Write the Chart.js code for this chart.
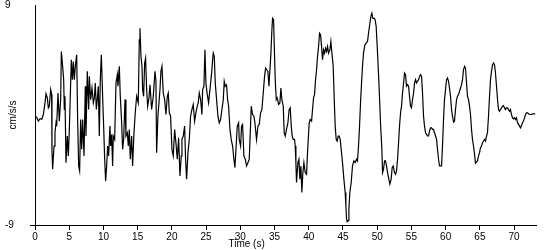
<!DOCTYPE html>
<html>
<head>
<meta charset="utf-8">
<script src="https://cdn.jsdelivr.net/npm/chart.js@4/dist/chart.umd.min.js"></script>
<style>
html,body{margin:0;padding:0;background:#fff;}
#wrap{width:550px;height:250px;}
</style>
</head>
<body>
<div id="wrap"><canvas id="c" width="550" height="250"></canvas></div>
<script>
// Time (s)
const times = [
0,0.25,0.49,0.75,1.0,1.22,1.46,1.61,1.80,1.95,2.09,2.29,2.43,2.48,2.58,2.78,2.92,3.07,3.16,3.36,3.55,3.75,3.85,4.04,4.19,4.28,4.38,4.53,4.72,4.87,
5.01,5.21,5.31,5.45,5.60,5.74,5.89,6.09,6.23,6.38,6.52,6.67,6.82,6.96,7.16,7.35,7.45,7.64,7.84,7.94,8.13,8.33,8.52,8.67,8.81,8.96,9.10,9.25,9.40,9.54,
9.69,9.88,10.03,10.18,10.32,10.47,10.61,10.76,10.95,11.05,11.20,11.34,11.44,11.64,11.83,12.03,12.12,12.32,12.46,12.66,12.80,12.95,13.15,13.29,13.49,13.63,13.78,13.92,14.12,14.26,
14.46,14.65,14.85,15.09,15.24,15.34,15.48,15.63,15.73,15.87,16.02,16.16,16.31,16.46,16.65,
16.80,17.04,17.28,17.53,17.67,17.77,17.96,18.26,18.40,18.55,18.74,18.94,19.13,19.33,19.47,19.62,19.81,20.01,20.20,20.40,20.59,20.79,20.98,21.18,21.37,21.47,21.66,21.86,22.00,22.15,
22.35,22.54,22.73,22.93,23.12,23.32,23.51,23.71,23.85,24.00,24.20,24.39,24.49,24.68,24.83,24.97,25.17,25.36,25.56,25.71,25.85,25.95,26.05,26.19,26.34,26.53,26.73,26.92,27.12,27.31,
27.51,27.65,27.80,27.99,28.14,28.29,28.48,28.67,28.87,29.06,29.21,29.36,29.55,29.75,29.84,30.04,30.18,30.33,30.52,30.72,30.91,31.11,31.30,31.45,31.60,31.79,31.99,32.13,32.37,32.57,
32.76,32.96,33.15,33.35,33.54,33.69,33.84,34.03,34.18,
34.47,34.61,34.71,34.86,34.95,35.10,35.25,35.39,35.59,35.78,35.93,36.07,36.27,36.41,36.56,36.75,36.95,37.14,37.29,37.44,37.58,37.73,37.92,38.02,38.12,38.21,38.41,38.56,38.70,38.85,
38.99,39.14,39.29,39.48,39.68,39.77,39.92,40.07,40.21,40.41,40.55,40.70,40.84,40.99,41.14,41.28,41.43,41.57,41.72,41.87,42.01,42.16,42.30,42.45,42.60,42.74,42.89,43.08,43.23,43.38,
43.57,43.72,43.86,44.01,44.15,44.30,44.45,44.59,44.74,44.93,45.13,45.32,45.42,45.52,45.61,45.76,45.86,46.00,46.20,46.39,46.59,46.78,46.98,47.12,47.27,47.42,47.56,47.71,47.85,48.00,
48.20,48.39,48.58,48.73,48.93,49.07,49.22,49.36,49.56,49.70,49.85,50.00,50.14,50.29,50.48,50.68,50.78,50.92,51.07,51.21,51.36,51.51,51.70,
51.85,52.04,52.19,52.34,52.53,52.68,52.82,52.97,53.12,53.26,53.41,53.55,53.70,53.85,53.99,54.14,54.28,54.43,54.58,54.72,54.87,55.01,55.16,55.31,55.45,55.60,55.74,55.89,56.04,56.18,
56.33,56.48,56.62,56.77,56.91,57.06,57.21,57.35,57.50,57.64,57.79,57.94,58.08,58.23,58.37,58.52,58.67,58.81,58.96,59.10,59.25,59.40,59.54,59.69,59.83,59.98,60.13,60.27,60.42,60.56,
60.71,60.86,61.00,61.15,61.29,61.44,61.59,61.73,61.88,62.03,62.17,62.32,62.46,62.61,62.76,62.90,63.05,63.19,63.34,63.49,63.63,63.78,63.92,64.07,64.22,64.36,64.51,64.65,64.80,64.95,
65.09,65.24,65.38,65.53,65.68,65.82,65.97,66.11,66.26,66.41,66.55,66.70,66.85,66.99,67.14,67.28,67.43,67.58,67.72,67.87,68.01,68.16,68.31,68.45,68.60,68.74,68.89,69.04,69.18,69.33,
69.47,69.62,69.77,69.91,70.06,70.20,70.35,70.50,70.64,70.79,70.94,71.08,71.23,71.37,71.52,71.67,71.81,71.96,72.10,72.25,72.40,72.54,72.69,72.88,73.08
];
// Acceleration (cm/s/s)
const accel = [
-0.10,-0.20,-0.50,-0.30,-0.35,0.04,0.99,1.75,1.40,0.58,0.72,2.08,1.67,-2.95,-4.44,-2.54,-1.45,-0.64,-0.91,1.80,-0.50,1.26,5.20,3.98,2.89,0.45,1.53,-3.90,-1.72,-3.35,
-1.32,2.62,4.52,2.89,4.38,2.89,3.98,4.93,-0.37,-4.17,-4.57,-0.37,-2.81,-0.37,-3.35,2.35,-1.72,3.57,0.45,3.16,1.26,2.21,0.99,1.40,2.62,0.45,1.26,2.35,-1.72,2.89,
4.93,1.53,-0.91,-3.62,-5.39,-4.17,-2.54,-3.35,-0.91,-2.54,-1.59,-4.17,-1.72,-2.00,2.62,3.30,2.35,3.98,1.53,-0.64,-2.81,-2.00,1.26,-1.72,-1.45,-2.54,-1.18,-3.62,-1.72,-4.17,
-1.45,0.18,1.53,0.99,6.15,7.10,4.79,3.98,2.08,1.53,4.25,4.65,2.08,0.72,1.40,
2.48,0.45,1.53,3.57,2.76,-3.08,-0.10,2.08,3.57,3.98,1.80,1.26,0.04,1.53,1.80,0.18,-0.10,-2.81,-3.35,-1.18,-2.27,-3.62,-1.86,-4.98,-3.35,-2.00,-1.72,-0.91,-3.62,-5.25,
-3.08,-2.00,-0.10,0.45,0.86,-0.50,0.18,0.72,0.99,1.80,1.26,0.04,2.08,2.35,5.33,2.62,1.67,0.99,2.08,2.89,3.70,4.52,5.06,4.79,2.62,1.26,-0.10,-0.64,-0.37,0.45,
1.26,2.76,2.35,2.48,1.26,0.72,-1.18,-2.00,-2.54,-3.62,-4.30,-2.81,-0.91,-0.64,-2.00,-2.54,-0.91,-0.77,-3.35,-3.62,-4.17,-3.90,-3.62,-1.45,0.72,0.04,-0.10,-0.64,-2.00,-0.91,
-0.77,0.18,0.45,1.80,3.16,3.84,3.70,3.57,2.35,
5.06,6.96,7.91,7.78,5.88,2.89,1.26,1.40,0.86,0.99,2.21,1.26,0.72,-1.45,-1.72,-1.18,-0.64,0.45,0.58,-0.91,-1.72,-2.00,-2.00,-2.54,-3.90,-5.52,-3.90,-3.62,-5.25,-4.17,
-6.34,-4.71,-3.90,-4.71,-4.85,-3.62,-2.00,-0.64,-0.37,-0.50,0.45,1.40,1.67,2.89,3.70,4.79,5.61,6.69,6.56,5.61,4.52,5.33,5.06,5.47,5.20,5.61,5.06,5.33,6.01,5.06,
3.98,1.26,-0.91,-2.00,-2.13,-1.72,-1.72,-2.00,-2.81,-3.90,-5.25,-6.34,-7.42,-8.51,-8.73,-8.64,-7.70,-6.34,-5.52,-4.17,-3.76,-3.90,-3.62,-3.76,-2.54,-0.91,0.99,2.62,3.98,5.06,
5.74,5.88,6.01,6.69,7.51,8.05,8.32,7.91,7.91,7.78,7.23,5.61,3.98,2.08,-0.64,-2.81,-4.71,-4.44,-3.76,-3.76,-4.17,-4.71,-5.25,
-5.66,-5.25,-4.30,-4.17,-4.71,-4.85,-4.57,-3.62,-2.27,-0.91,0.18,0.72,1.80,2.62,3.43,3.30,2.35,2.48,2.35,1.53,0.72,0.58,1.26,1.80,2.62,2.89,2.62,2.76,2.89,3.16,
3.30,3.16,1.80,-0.10,-0.91,-1.45,-1.59,-1.72,-1.72,-1.32,-1.05,-1.05,-1.18,-1.18,-1.45,-1.72,-2.00,-2.81,-3.62,-4.17,-4.17,-4.17,-2.54,-0.37,1.26,2.08,2.89,3.03,2.76,2.21,
1.53,0.45,-0.10,-0.58,-0.50,0.45,1.26,1.53,1.67,1.94,2.21,2.48,2.89,3.70,3.98,3.84,2.62,1.53,1.26,0.72,0.04,-1.18,-2.00,-2.54,-3.22,-3.95,-3.84,-3.76,-3.35,-3.08,
-2.67,-2.54,-2.27,-2.13,-2.00,-2.13,-1.72,-1.45,-0.10,1.53,2.89,3.57,4.11,4.25,4.11,3.43,2.35,1.26,0.45,0.31,0.45,0.58,0.72,0.77,0.58,0.45,0.58,0.58,0.45,0.31,
0.45,0.04,-0.23,-0.31,-0.23,-0.37,-0.23,-0.64,-0.77,-0.91,-1.05,-0.86,-0.64,-0.50,-0.23,0.04,0.18,0.18,0.10,0.04,0.04,0.04,0.10,0.10,0.10
];
const xTickValues = [0,5,10,15,20,25,30,35,40,45,50,55,60,65,70];
const yTickValues = [-9, 9];
const xTitle = 'Time (s)';
const yTitle = 'cm/s/s';

const points = times.map((t, i) => ({x: t, y: accel[i]}));
const FONT = {family: '"Liberation Sans", Arial, sans-serif', size: 10};

new Chart(document.getElementById('c'), {
  type: 'line',
  data: {
    datasets: [{
      data: points,
      borderColor: '#000',
      borderWidth: 1.2,
      pointRadius: 0,
      tension: 0,
      fill: false
    }]
  },
  options: {
    responsive: false,
    animation: false,
    events: [],
    layout: {padding: {top: 5, right: 14, left: 5, bottom: 0}},
    plugins: {legend: {display: false}, tooltip: {enabled: false}},
    scales: {
      x: {
        type: 'linear',
        min: 0,
        max: 73.2,
        afterBuildTicks: s => { s.ticks = xTickValues.map(v => ({value: v})); },
        afterFit: s => { s.height = 25; },
        border: {display: true, color: '#000', width: 1},
        grid: {display: true, drawOnChartArea: false, drawTicks: true, tickLength: 5, color: '#000'},
        ticks: {color: '#000', font: FONT, padding: 1, maxRotation: 0, autoSkip: false},
        title: {display: true, text: xTitle + ' '.repeat(28), color: '#000', font: FONT, padding: {top: 0, bottom: 0}}
      },
      y: {
        type: 'linear',
        min: -9,
        max: 9,
        afterBuildTicks: s => { s.ticks = yTickValues.map(v => ({value: v})); },
        afterFit: s => { s.width = 30; },
        border: {display: true, color: '#000', width: 1},
        grid: {display: true, drawOnChartArea: false, drawTicks: true, tickLength: 5,
               color: ctx => (ctx.tick && ctx.tick.value === -9) ? '#000' : 'rgba(0,0,0,0)'},
        ticks: {color: '#000', font: {family: FONT.family, size: 10, lineHeight: 1}, padding: 0, crossAlign: 'far'},
        title: {display: true, text: yTitle, color: '#000', font: FONT, padding: {top: 2, bottom: 0}}
      }
    }
  }
});
</script>
</body>
</html>
